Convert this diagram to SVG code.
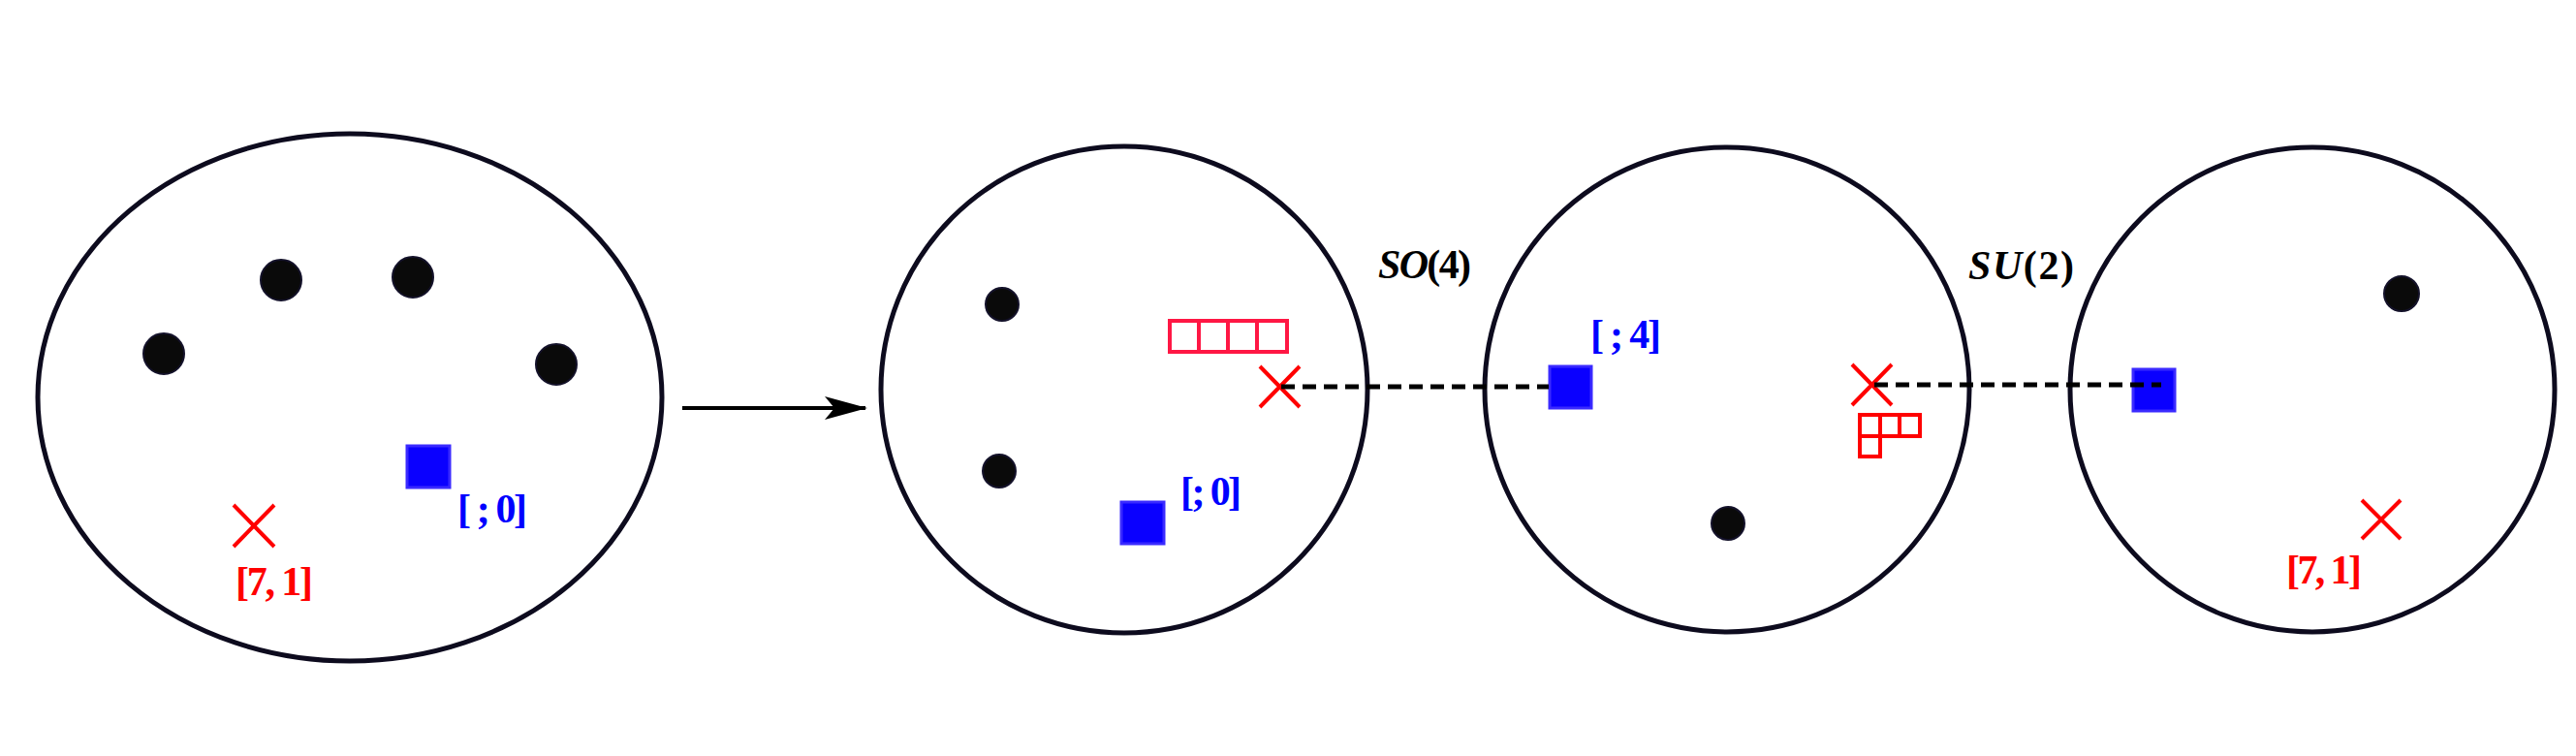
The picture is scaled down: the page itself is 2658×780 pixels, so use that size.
<svg xmlns="http://www.w3.org/2000/svg" width="2658" height="780" viewBox="0 0 2658 780">
<defs>
<style>
.reg{fill:none;stroke:#0d0b1e;stroke-width:5}
.dot{fill:#0a0a0a;stroke:#14122a;stroke-width:2}
.sq{fill:#0a00ff;stroke:#3a2aff;stroke-width:3}
.x{stroke:#ff0000;stroke-width:4;fill:none}
.yt{fill:none;stroke:#ff0000;stroke-width:4}
.lb{font-family:"Liberation Serif",serif;font-weight:bold;font-size:42px}
.dash{stroke:#000;stroke-width:5;stroke-dasharray:14 8;fill:none}
</style>
<marker id="ah" markerWidth="44" markerHeight="24" refX="42" refY="12" orient="auto" markerUnits="userSpaceOnUse" viewBox="0 0 44 24">
<path d="M0,0 L44,12 L0,24 L10,12 Z" fill="#000"/>
</marker>
</defs>
<g id="region1">
<ellipse class="reg" cx="361" cy="410" rx="322" ry="272"/>
<circle class="dot" cx="169" cy="365" r="21"/>
<circle class="dot" cx="290" cy="289" r="21"/>
<circle class="dot" cx="426" cy="286" r="21"/>
<circle class="dot" cx="574" cy="376" r="21"/>
<rect class="sq" x="420" y="460" width="44" height="43"/>
<text class="lb" x="472" y="539" fill="#0000ff" textLength="72">[ ; 0]</text>
<path class="x" d="M241,521 L283,564 M283,521 L241,564"/>
<text class="lb" x="243" y="614" fill="#ff0000" textLength="80">[7, 1]</text>
</g>
<g id="region2">
<circle class="reg" cx="1160" cy="402" r="251"/>
<circle class="dot" cx="1034" cy="314" r="17"/>
<circle class="dot" cx="1031" cy="486" r="17"/>
<rect class="sq" x="1157" y="518" width="44" height="43"/>
<text class="lb" x="1218" y="521" fill="#0000ff" textLength="63">[; 0]</text>
<g stroke="#ff1744" stroke-width="4" fill="none">
<rect x="1207" y="331" width="121" height="32"/>
<path d="M1237,331 V363 M1267,331 V363 M1297,331 V363"/>
</g>
<path class="x" d="M1300,378 L1341,420 M1341,378 L1300,420"/>
</g>
<g id="region3">
<circle class="reg" cx="1782" cy="402" r="250"/>
<circle class="dot" cx="1783" cy="540" r="17"/>
<rect class="sq" x="1599" y="378" width="43" height="43"/>
<text class="lb" x="1641" y="359" fill="#0000ff" textLength="73">[ ; 4]</text>
<path class="x" d="M1911,376 L1952,418 M1952,376 L1911,418"/>
<g class="yt">
<rect x="1919" y="428" width="62" height="22"/>
<path d="M1940,428 V450 M1960,428 V450"/>
<rect x="1919" y="450" width="21" height="21"/>
</g>
</g>
<g id="region4">
<circle class="reg" cx="2386" cy="402" r="250"/>
<circle class="dot" cx="2478" cy="303" r="18"/>
<rect class="sq" x="2201" y="381" width="43" height="43"/>
<path class="x" d="M2437,516 L2477,556 M2477,516 L2437,556"/>
<text class="lb" x="2359" y="602" fill="#ff0000" textLength="78">[7, 1]</text>
</g>
<g id="labels">
<text class="lb" x="1422" y="287" fill="#000" textLength="96"><tspan font-style="italic">SO</tspan>(4)</text>
<text class="lb" x="2031" y="288" fill="#000" textLength="109"><tspan font-style="italic">SU</tspan>(2)</text>
</g>
<g id="connectors">
<line x1="704" y1="421" x2="893" y2="421" stroke="#000" stroke-width="4" marker-end="url(#ah)"/>
<line class="dash" x1="1322" y1="399" x2="1598" y2="399"/>
<line class="dash" x1="1934" y1="397" x2="2230" y2="397"/>
</g>
</svg>
